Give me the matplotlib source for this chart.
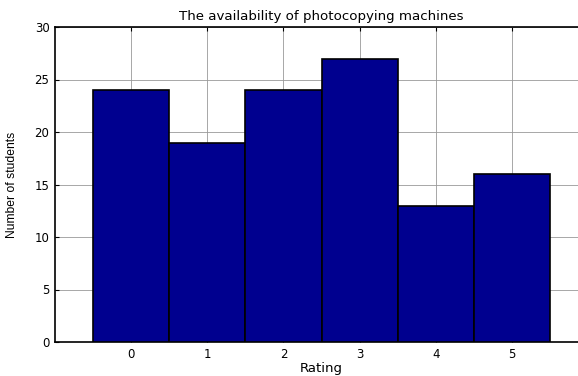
import matplotlib
matplotlib.use("Agg")
import matplotlib.pyplot as plt

ratings = [0, 1, 2, 3, 4, 5]
counts = [24, 19, 24, 27, 13, 16]
yticks = [0, 5, 10, 15, 20, 25, 30]

plt.rcParams['font.family'] = ['DejaVu Sans']

W, H = 578, 376
fig = plt.figure(figsize=(W / 100, H / 100), dpi=100)
left, right, top, bottom = 55, 588, 27, 342
ax = fig.add_axes([left / W, 1 - bottom / H, (right - left) / W, (bottom - top) / H])

ax.bar(ratings, counts, width=1.0, color='#00008F', edgecolor='black', linewidth=1.2, zorder=3)

ax.set_xlim(-1, 6)
ax.set_ylim(0, 30)
ax.set_xticks(ratings)
ax.set_yticks(yticks)
ax.tick_params(direction='in', length=3, labelsize=8.5, top=True, right=True, width=0.8, pad=4)
ax.grid(True, color='#999999', linestyle='-', linewidth=0.6, zorder=0)
ax.set_axisbelow(True)
for s in ax.spines.values():
    s.set_linewidth(1.2)

ax.set_title('The availability of photocopying machines', fontsize=9.6, pad=5)
ax.set_xlabel('Rating', fontsize=9.5, labelpad=1)
ax.set_ylabel('Number of students', fontsize=8.7, labelpad=12,
              family=['Liberation Sans', 'DejaVu Sans'])

fig.savefig('out.png', dpi=100)
